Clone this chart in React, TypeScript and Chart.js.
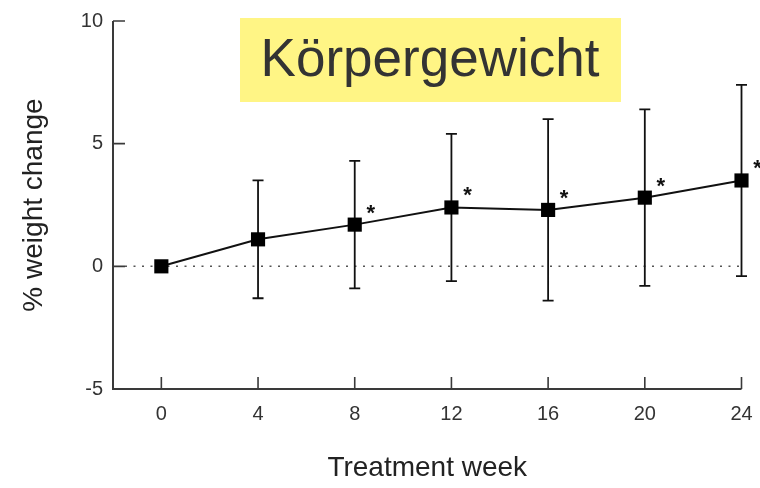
import React, { useEffect, useRef } from "react";
import { Chart, registerables } from "chart.js";

Chart.register(...registerables);

const weeks = [0, 4, 8, 12, 16, 20, 24];
const meanChange = [0, 1.1, 1.7, 2.4, 2.3, 2.8, 3.5];
const errUpper = [0, 3.5, 4.3, 5.4, 6.0, 6.4, 7.4];
const errLower = [0, -1.3, -0.9, -0.6, -1.4, -0.8, -0.4];
const significant = [false, false, true, true, true, true, true];
const yTicks = [-5, 0, 5, 10];
const titleText = "Körpergewicht";
const xTitle = "Treatment week";
const yTitle = "% weight change";

const FONT = "'Liberation Sans', Arial, Helvetica, sans-serif";
const AXIS_COLOR = "#3a3a3a";

const decorPlugin = {
  id: "decor",
  beforeDatasetsDraw(chart: any) {
    const { ctx, chartArea, scales } = chart;
    const xs = scales.x;
    const ys = scales.y;
    ctx.save();
    // dotted zero line
    const y0 = ys.getPixelForValue(0);
    ctx.strokeStyle = "#555";
    ctx.lineWidth = 1.5;
    ctx.setLineDash([2, 6.5]);
    ctx.beginPath();
    ctx.moveTo(chartArea.left + 12, y0);
    ctx.lineTo(chartArea.right, y0);
    ctx.stroke();
    ctx.setLineDash([]);
    // axes
    ctx.strokeStyle = AXIS_COLOR;
    ctx.lineWidth = 2;
    ctx.beginPath();
    ctx.moveTo(chartArea.left, chartArea.top);
    ctx.lineTo(chartArea.left, chartArea.bottom);
    ctx.lineTo(chartArea.right, chartArea.bottom);
    ctx.stroke();
    // inward ticks
    ctx.lineWidth = 1.6;
    ctx.beginPath();
    yTicks.forEach((v) => {
      const py = ys.getPixelForValue(v);
      ctx.moveTo(chartArea.left, py);
      ctx.lineTo(chartArea.left + 12, py);
    });
    weeks.forEach((w) => {
      const px = xs.getPixelForValue(w);
      ctx.moveTo(px, chartArea.bottom);
      ctx.lineTo(px, chartArea.bottom - 12);
    });
    ctx.stroke();
    // error bars
    ctx.strokeStyle = "#111";
    ctx.lineWidth = 1.8;
    ctx.beginPath();
    weeks.forEach((w, i) => {
      if (errUpper[i] === errLower[i]) return;
      const px = xs.getPixelForValue(w);
      const pt = ys.getPixelForValue(errUpper[i]);
      const pb = ys.getPixelForValue(errLower[i]);
      ctx.moveTo(px, pt);
      ctx.lineTo(px, pb);
      ctx.moveTo(px - 5.5, pt);
      ctx.lineTo(px + 5.5, pt);
      ctx.moveTo(px - 5.5, pb);
      ctx.lineTo(px + 5.5, pb);
    });
    ctx.stroke();
    ctx.restore();
  },
  afterDatasetsDraw(chart: any) {
    const { ctx, scales } = chart;
    const xs = scales.x;
    const ys = scales.y;
    ctx.save();
    // asterisks
    ctx.fillStyle = "#111";
    ctx.font = `bold 22px ${FONT}`;
    ctx.textAlign = "center";
    ctx.textBaseline = "alphabetic";
    weeks.forEach((w, i) => {
      if (!significant[i]) return;
      const px = xs.getPixelForValue(w);
      const py = ys.getPixelForValue(meanChange[i]);
      ctx.fillText("*", px + 16, py - 5);
    });
    // title box
    ctx.fillStyle = "#fff585";
    ctx.fillRect(240, 18, 381, 84);
    ctx.fillStyle = "#333";
    ctx.font = `53px ${FONT}`;
    ctx.textAlign = "center";
    ctx.textBaseline = "middle";
    ctx.fillText(titleText, 430, 61);
    ctx.restore();
  },
};

export default function App() {
  const ref = useRef<HTMLCanvasElement | null>(null);
  useEffect(() => {
    document.body.style.margin = "0";
    const canvas = ref.current;
    if (!canvas) return;
    const chart = new Chart(canvas, {
      type: "line",
      data: {
        datasets: [
          {
            data: weeks.map((w, i) => ({ x: w, y: meanChange[i] })),
            borderColor: "#111",
            borderWidth: 2,
            backgroundColor: "#000",
            pointStyle: "rect",
            pointRadius: 10,
            pointBorderWidth: 0,
            pointBackgroundColor: "#000",
            tension: 0,
            clip: false,
          },
        ],
      },
      options: {
        animation: false,
        responsive: false,
        maintainAspectRatio: false,
        layout: { padding: { top: 21, right: 18.5, left: 0, bottom: 0 } },
        plugins: { legend: { display: false }, tooltip: { enabled: false } },
        scales: {
          x: {
            type: "linear",
            min: -2,
            max: 24,
            afterBuildTicks: (s: any) => {
              s.ticks = weeks.map((v) => ({ value: v }));
            },
            afterFit: (s: any) => {
              s.height = 99;
              s.paddingLeft = 0;
              s.paddingRight = 0;
            },
            grid: { display: false, drawTicks: false },
            border: { display: false },
            ticks: {
              color: "#333",
              font: { family: FONT, size: 20 },
              padding: 13,
              maxRotation: 0,
            },
            title: {
              display: true,
              text: xTitle,
              color: "#222",
              font: { family: FONT, size: 28 },
              padding: { top: 0, bottom: 3 },
            },
          },
          y: {
            type: "linear",
            min: -5,
            max: 10,
            afterBuildTicks: (s: any) => {
              s.ticks = yTicks.map((v) => ({ value: v }));
            },
            afterFit: (s: any) => {
              s.width = 113;
              s.paddingTop = 0;
              s.paddingBottom = 0;
            },
            grid: { display: false, drawTicks: false },
            border: { display: false },
            ticks: {
              color: "#333",
              font: { family: FONT, size: 20 },
              padding: 10,
            },
            title: {
              display: true,
              text: yTitle,
              color: "#222",
              font: { family: FONT, size: 28 },
              padding: { top: 17, bottom: 0 },
            },
          },
        },
      },
      plugins: [decorPlugin],
    } as any);
    return () => chart.destroy();
  }, []);
  return (
    <div style={{ width: 760, height: 488, background: "#fff" }}>
      <canvas ref={ref} width={760} height={488} style={{ display: "block" }} />
    </div>
  );
}
